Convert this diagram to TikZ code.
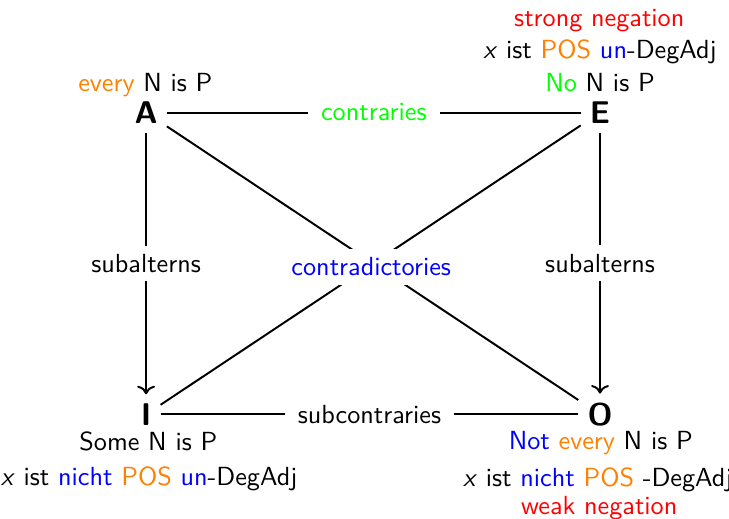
\documentclass[tikz,border=0pt]{standalone}
\usepackage{xcolor}
\usepackage{tikz}
\usetikzlibrary{arrows.meta, positioning}
\renewcommand{\familydefault}{\sfdefault}
\definecolor{Quant}{HTML}{FF8000}
\definecolor{Neg}{HTML}{0000FF}
\definecolor{Rel}{HTML}{00FF00}
\definecolor{Strength}{HTML}{FF0000}
\tikzset{
  corner/.style={font=\large\bfseries},
  rel/.style={line width=0.75pt, color=black},
  sub/.style={->, line width=0.75pt, color=black},
  tag/.style={fill=white, font=\normalsize, inner xsep=5pt},
  form/.style={anchor=base, font=\normalsize},
}

\begin{document}
\begin{tikzpicture}
  \useasboundingbox (0,0) rectangle (9.78,6.96);

  % Corners of the square
  \node[corner] (A) at (1.96,5.45) {A};
  \node[corner] (E) at (8.05,5.45) {E};
  \node[corner] (I) at (1.96,1.40) {I};
  \node[corner] (O) at (8.05,1.40) {O};

  % Relations
  \draw[rel] (A) -- node[tag, text=Rel] (contr) {contraries} (E);
  \draw[sub] (A) -- node[tag] (subA) {subalterns} (I);
  \draw[sub] (E) -- node[tag] (subE) {subalterns} (O);
  \draw[rel] (I) -- node[tag] (subc) {subcontraries} (O);
  \draw[rel] (A) -- (O);
  \draw[rel] (E) -- (I);
  \node[tag, text=Neg, inner xsep=3pt] (cdict) at (4.98,3.38) {contradictories};

  % Readings above
  \node[form] (Aq) at (1.95,5.73) {\textcolor{Quant}{every} N is P};
  \node[form] (Eq) at (8.05,5.73) {\textcolor{Rel}{No} N is P};
  \node[form] (Eadj) at (8.05,6.17) {\textit{x} ist \textcolor{Quant}{POS} \textcolor{Neg}{un}-DegAdj};
  \node[form, text=Strength] (Eneg) at (8.04,6.61) {strong negation};

  % Readings below
  \node[form] (Iq) at (1.99,0.91) {Some N is P};
  \node[form] (Iadj) at (2.00,0.45) {\textit{x} ist \textcolor{Neg}{nicht} \textcolor{Quant}{POS} \textcolor{Neg}{un}-DegAdj};
  \node[form] (Oq) at (8.06,0.925) {\textcolor{Neg}{Not} \textcolor{Quant}{every} N is P};
  \node[form] (Oadj) at (8.02,0.43) {\textit{x} ist \textcolor{Neg}{nicht} \textcolor{Quant}{POS} -DegAdj};
  \node[form, text=Strength] (Oneg) at (8.04,0.06) {weak negation};
\end{tikzpicture}
\end{document}
